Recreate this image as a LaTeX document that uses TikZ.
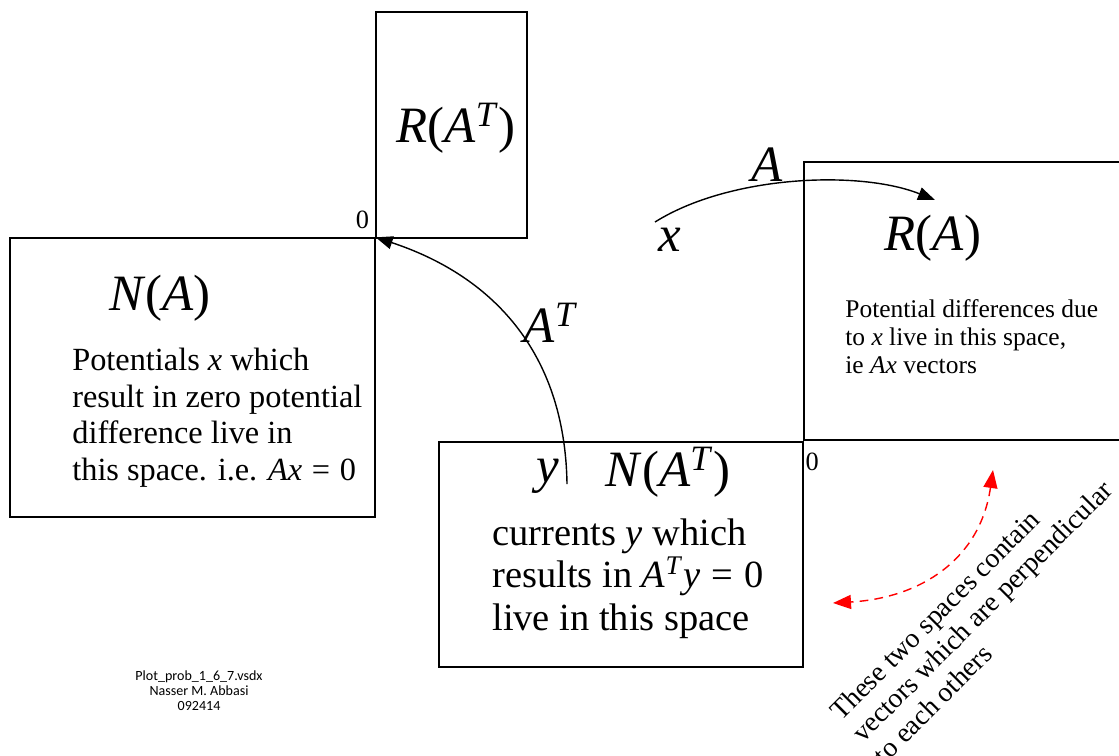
\documentclass[tikz,border=0pt]{standalone}
\usepackage{fontspec}
\setmainfont{Liberation Serif}
\newfontfamily\notefont{Carlito}
\usetikzlibrary{arrows.meta,positioning}
\definecolor{notered}{RGB}{255,0,0}
\tikzset{
  spacebox/.style={draw=black, line width=0.8pt, inner sep=0pt},
  biglabel/.style={inner sep=0pt, font=\fontsize{29}{32}\selectfont},
  zerolabel/.style={inner sep=0pt, font=\fontsize{15}{17}\selectfont},
  bodytext/.style={inner sep=0pt, align=left, anchor=north west, font=\fontsize{18.4}{20.8}\selectfont},
  smalltext/.style={inner sep=0pt, align=left, anchor=north west, font=\fontsize{14.5}{15.9}\selectfont},
  bigtext/.style={inner sep=0pt, align=left, anchor=north west, font=\fontsize{21.9}{24.4}\selectfont},
  maparrow/.style={-{Triangle[length=3.4mm,width=2.6mm]}, line width=0.8pt},
  perparrow/.style={{Triangle[length=3.6mm,width=2.8mm]}-{Triangle[length=3.6mm,width=2.8mm]},
               line width=0.8pt, draw=notered, dash pattern=on 5pt off 3.5pt},
}
\newcommand{\itx}[1]{\textit{#1}}
\newcommand{\sups}[1]{\textsuperscript{\itx{#1}}}
\newcommand{\eqz}{\hspace{0.3em}=\hspace{0.3em}0}

\begin{document}
\begin{tikzpicture}[x=0.02cm, y=-0.02cm]
    \clip (0,0) rectangle (1119,755);
    % the four spaces
    \node[spacebox, minimum width=7.30cm, minimum height=5.58cm] (nA) at (192.5,377.5) {};
    \node[spacebox, minimum width=3.02cm, minimum height=4.52cm] (rAT) at (451.5,125) {};
    \node[spacebox, minimum width=6.72cm, minimum height=5.56cm] (rA) at (972,301) {};
    \node[spacebox, minimum width=7.28cm, minimum height=4.50cm] (nAT) at (621,554.5) {};
    \node[zerolabel, above left=2mm and 1.2mm of rAT.south west] (zeroL) {0};
    \node[zerolabel, below right=2.4mm and 0.4mm of rA.south west] (zeroR) {0};
    % names
    \node[biglabel] (lblNA) at (160,298) {\itx{N}(\itx{A})};
    \node[biglabel] (lblRAT) at (456,128) {\itx{R}(\itx{A}\sups{T})};
    \node[biglabel] (lblRA) at (933,238) {\itx{R}(\itx{A})};
    \node[biglabel] (lblNAT) at (668,472) {\itx{N}(\itx{A}\sups{T})};
    \node[biglabel] (lblAT) at (551,323) {\itx{A}\sups{T}};
    \node[biglabel] (lblA) at (767,165) {\itx{A}};
    \node[biglabel] (lblx) at (670,240) {\itx{x}};
    \node[biglabel] (lbly) at (548,476) {\itx{y}};
    % descriptions
    \node[bodytext] (txtNA) at (72,348) {Potentials \itx{x} which\\result in zero potential\\difference live in\\this space. i.e. \itx{Ax}\eqz};
    \node[smalltext] (txtRA) at (845,299) {Potential differences due\\to \itx{x} live in this space,\\ie \itx{Ax} vectors};
    \node[bigtext] (txtNAT) at (492,518) {currents \itx{y} which\\results in \itx{A}\sups{T}\itx{y}\eqz\\live in this space};
    \node[inner sep=0pt, align=left, rotate=45, font=\fontsize{15.8}{17.5}\selectfont] (txtPerp) at (982,611)
      {These two spaces contain\\vectors which are perpendicular\\to each others};
    \node[inner sep=0pt, align=center, font=\notefont\fontsize{8}{8.5}\selectfont] (stamp) at (199,691)
      {Plot\_prob\_1\_6\_7.vsdx\\Nasser M. Abbasi\\092414};
    % maps
    \coordinate (ystart) at (567,484);
    \coordinate (xstart) at (655,222);
    \coordinate (xend) at (935,200);
    \coordinate (perpA) at (993,470);
    \coordinate (perpB) at (833,603);
    \draw[maparrow] (ystart) .. controls (565,350) and (490,275) .. (nA.north east);
    \draw[maparrow] (xstart) .. controls (730,175) and (860,170) .. (xend);
    \draw[perparrow] (perpA) .. controls (980,560) and (920,598) .. (perpB);
  \end{tikzpicture}
\end{document}
